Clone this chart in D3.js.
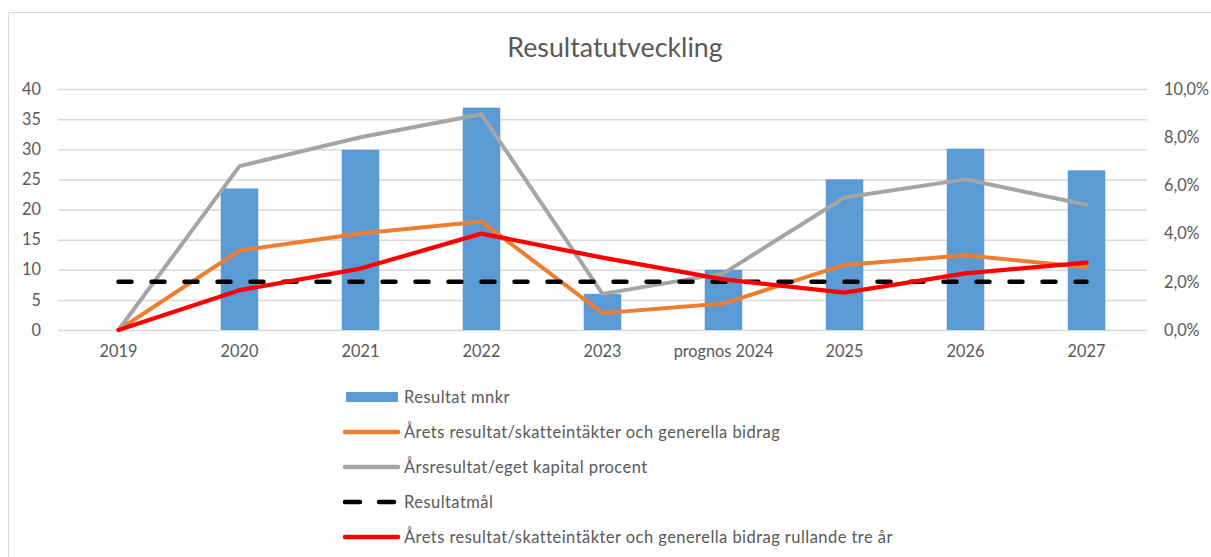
<!DOCTYPE html>
<html>
<head>
<meta charset="utf-8">
<script src="https://cdn.jsdelivr.net/npm/d3@7"></script>
<style>
  body { margin: 0; background: #fff; }
  text { font-family: Lato, "Open Sans", sans-serif; fill: #595959; }
</style>
</head>
<body>
<div id="chart"></div>
<script>
// values
var categories = ['2019', '2020', '2021', '2022', '2023', 'prognos 2024', '2025', '2026', '2027'];
var resultatMnkr = [0, 23.5, 29.9, 36.9, 6.0, 10.0, 25.0, 30.1, 26.5];
var resultatAndel = [0, 3.3, 4.0, 4.5, 0.7, 1.1, 2.7, 3.1, 2.6];        // procent
var egetKapital = [0, 6.8, 8.0, 8.95, 1.5, 2.35, 5.5, 6.25, 5.2];       // procent
var resultatmal = [2, 2, 2, 2, 2, 2, 2, 2, 2];                          // procent
var rullandeTreAr = [0, 1.65, 2.55, 4.0, 3.0, 2.1, 1.55, 2.35, 2.8];    // procent
var leftTicks = [0, 5, 10, 15, 20, 25, 30, 35, 40];
var rightTicks = [0, 2, 4, 6, 8, 10];

var width = 1211, height = 557;
var plotLeft = 58, plotRight = 1147, plotTop = 89, plotBottom = 330;
var axisFont = '16.3px';

var svg = d3.select('#chart').append('svg')
  .attr('width', width)
  .attr('height', height);

// chart border
svg.append('rect')
  .attr('x', 8.5).attr('y', 12.5)
  .attr('width', 1230).attr('height', 600)
  .attr('fill', '#fff')
  .attr('stroke', '#d9d9d9');

svg.append('text')
  .attr('x', 615)
  .attr('y', 57)
  .attr('text-anchor', 'middle')
  .attr('font-size', '26.8px')
  .text('Resultatutveckling');

var x = d3.scaleBand().domain(categories).range([plotLeft, plotRight]);
var yL = d3.scaleLinear().domain([0, 40]).range([plotBottom, plotTop]);
var yR = d3.scaleLinear().domain([0, 10]).range([plotBottom, plotTop]);
var sv = d3.formatLocale({decimal: ',', thousands: ' ', grouping: [3], currency: ['', ' kr']});
var pct = sv.format('.1f');

// left axis + gridlines
var gl = svg.append('g')
  .attr('transform', 'translate(' + plotLeft + ',0)')
  .call(d3.axisLeft(yL).tickValues(leftTicks).tickSize(-(plotRight - plotLeft)).tickPadding(17));
gl.select('.domain').remove();
gl.selectAll('.tick line').attr('stroke', '#d9d9d9').attr('stroke-width', 1.5);
gl.selectAll('.tick text').attr('font-size', axisFont).attr('fill', '#595959')
  .attr('font-family', 'Lato, sans-serif');

// right axis
var gr = svg.append('g')
  .attr('transform', 'translate(' + plotRight + ',0)')
  .call(d3.axisRight(yR).tickValues(rightTicks).tickSize(0).tickPadding(17)
    .tickFormat(function(d) { return pct(d) + '%'; }));
gr.select('.domain').remove();
gr.selectAll('.tick text').attr('font-size', axisFont).attr('fill', '#595959')
  .attr('font-family', 'Lato, sans-serif');

// category axis
var gx = svg.append('g')
  .attr('transform', 'translate(0,' + plotBottom + ')')
  .call(d3.axisBottom(x).tickSize(0).tickPadding(15));
gx.select('.domain').remove();
gx.selectAll('.tick text').attr('font-size', axisFont).attr('fill', '#595959')
  .attr('font-family', 'Lato, sans-serif');

// bars
var barW = x.bandwidth() * 0.31;
svg.append('g').selectAll('rect')
  .data(resultatMnkr)
  .enter()
  .append('rect')
  .attr('x', function(d, i) { return x(categories[i]) + x.bandwidth() / 2 - barW / 2; })
  .attr('y', function(d) { return yL(d); })
  .attr('width', barW)
  .attr('height', function(d) { return plotBottom - yL(d); })
  .attr('fill', '#5b9bd5');

var line = d3.line()
  .x(function(d, i) { return x(categories[i]) + x.bandwidth() / 2; })
  .y(function(d) { return yR(d); });

var series = [
  {data: resultatAndel, color: '#ed7d31', w: 4, dash: null},
  {data: egetKapital, color: '#a5a5a5', w: 4, dash: null},
  {data: resultatmal, color: '#000', w: 4.5, dash: '13,20'},
  {data: rullandeTreAr, color: '#ff0000', w: 4.3, dash: null}
];

series.forEach(function(s) {
  svg.append('path')
    .datum(s.data)
    .attr('d', line)
    .attr('fill', 'none')
    .attr('stroke', s.color)
    .attr('stroke-width', s.w)
    .attr('stroke-linejoin', 'round')
    .attr('stroke-linecap', 'round')
    .attr('stroke-dasharray', s.dash);
});

// legend
var legendItems = [
  {label: 'Resultat mnkr', type: 'bar', color: '#5b9bd5'},
  {label: 'Årets resultat/skatteintäkter och generella bidrag', type: 'line', color: '#ed7d31'},
  {label: 'Årsresultat/eget kapital procent', type: 'line', color: '#a5a5a5'},
  {label: 'Resultatmål', type: 'dash', color: '#000'},
  {label: 'Årets resultat/skatteintäkter och generella bidrag rullande tre år', type: 'line', color: '#ff0000'}
];

var lg = svg.append('g').selectAll('g')
  .data(legendItems)
  .enter()
  .append('g')
  .attr('transform', function(d, i) { return 'translate(0,' + (397 + i * 35) + ')'; });

lg.filter(function(d) { return d.type === 'bar'; })
  .append('rect')
  .attr('x', 346).attr('y', -5)
  .attr('width', 52).attr('height', 10)
  .attr('fill', function(d) { return d.color; });

lg.filter(function(d) { return d.type !== 'bar'; })
  .append('line')
  .attr('x1', 345).attr('x2', 398)
  .attr('stroke', function(d) { return d.color; })
  .attr('stroke-width', 4.5)
  .attr('stroke-linecap', 'round')
  .attr('stroke-dasharray', function(d) { return d.type === 'dash' ? '15,19' : null; });

lg.append('text')
  .attr('x', 404)
  .attr('y', 6)
  .attr('font-size', '16.5px')
  .attr('letter-spacing', '0.45px')
  .text(function(d) { return d.label; });
</script>
</body>
</html>
